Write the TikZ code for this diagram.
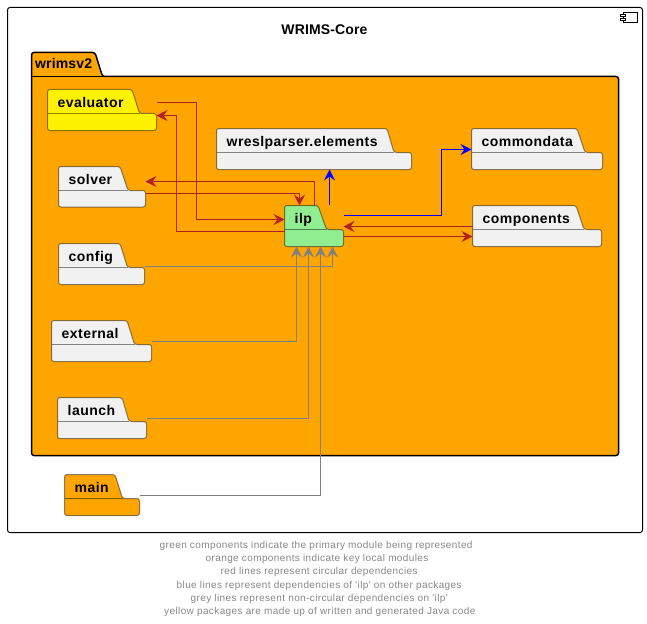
\documentclass[tikz,border=0pt]{standalone}
\usepackage{fontspec}
\setmainfont{Liberation Sans}
\newfontfamily\pkgfont[LetterSpace=3.2]{Liberation Sans}
\newfontfamily\titlefont[LetterSpace=1]{Liberation Sans}
\newfontfamily\capfont[LetterSpace=3.9]{Liberation Sans}
\usetikzlibrary{arrows.meta,fit}
\definecolor{pkggrey}{HTML}{F1F1F1}
\definecolor{pkgorange}{HTML}{FFA500}
\definecolor{pkggreen}{HTML}{90EE90}
\definecolor{redlink}{HTML}{B22222}
\definecolor{captext}{HTML}{888888}
\tikzset{
  pkgshape/.style={line width=1pt,draw=black,draw opacity=.45,rounded corners=2.5pt},
  pkgname/.style={anchor=base west,inner sep=0pt,font=\pkgfont\bfseries\fontsize{14}{14}\selectfont},
  box/.style={inner sep=0pt,outer sep=0pt},
  conn/.style={line width=1pt,-{Stealth[length=11pt,width=11pt,inset=4pt]}},
  redlink/.style={conn,draw=redlink,color=redlink},
  bluelink/.style={conn,draw=blue,color=blue},
  greylink/.style={conn,draw=gray,color=gray},
  capline/.style={anchor=base west,inner sep=0pt,text=captext,font=\capfont\fontsize{10}{10}\selectfont},
}
% name, label, fill, left, top, tab top right, tab bottom right, right, bottom
\newcommand{\pkgbox}[9]{%
  \path[pkgshape,fill=#3] (#4,#5) -- (#6,#5) -- (#7,#5+24) -- (#8,#5+24) -- (#8,#9) -- (#4,#9) -- cycle;
  \draw[line width=1pt,draw=black,draw opacity=.45] (#4,#5+24) -- (#7,#5+24);
  \node[box,fit={(#4,#5) (#8,#9)}] (#1) {};
  \node[pkgname] (#1-label) at (#4+10,#5+18) {#2};
}
\begin{document}
\begin{tikzpicture}[x=1pt,y=-1pt]
\useasboundingbox (0,0) rectangle (647,623);
\fill[white] (0,0) rectangle (647,623);
% outer component
\draw[line width=1pt,rounded corners=2.5pt,fill=white] (7.5,7.5) rectangle (642.5,532.5);
\node[box,fit={(7.5,7.5) (642.5,532.5)}] (core) {};
\node[anchor=base,inner sep=0pt,font=\titlefont\bfseries\fontsize{14}{14}\selectfont] (core-title) at (324.5,35) {WRIMS-Core};
\draw[line width=1pt] (623.5,12.5) rectangle (637.5,22.5);
\draw[line width=1pt,fill=white] (620.5,14.5) rectangle (625.5,16.5);
\draw[line width=1pt,fill=white] (620.5,18.5) rectangle (625.5,20.5);
% wrimsv2 frame
\path[draw=black,line width=1.5pt,fill=pkgorange,rounded corners=2.5pt]
  (31.5,52.5) -- (95,52.5) -- (102.5,76.5) -- (618.5,76.5) -- (618.5,455.5) -- (31.5,455.5) -- cycle;
\draw[line width=1pt,black] (31.5,76.5) -- (102.5,76.5);
\node[box,fit={(31.5,52.5) (618.5,455.5)}] (wrimsv2) {};
\node[anchor=base west,inner sep=0pt,font=\titlefont\bfseries\fontsize{14}{14}\selectfont] (wrimsv2-label) at (35,69) {wrimsv2};
% packages
\pkgbox{evaluator}{evaluator}{yellow}{47.5}{89.5}{132}{139.5}{156.5}{130.5}
\pkgbox{solver}{solver}{pkggrey}{58.5}{166.5}{120}{128}{145.5}{207}
\pkgbox{config}{config}{pkggrey}{58.5}{243.5}{120}{127.5}{144.5}{284.5}
\pkgbox{external}{external}{pkggrey}{51.5}{320.5}{127}{134.5}{151.5}{361.5}
\pkgbox{launch}{launch}{pkggrey}{57.5}{397.5}{122}{129}{146.5}{438.5}
\pkgbox{main}{main}{pkgorange}{64.5}{474.5}{115}{122.5}{139.5}{515.5}
\pkgbox{wresl}{wreslparser.elements}{pkggrey}{216.5}{128.5}{387}{394}{411.5}{169.5}
\pkgbox{commondata}{commondata}{pkggrey}{471.5}{128.5}{577}{585}{602.5}{169.5}
\pkgbox{components}{components}{pkggrey}{472.5}{205.5}{576}{584}{601.5}{246.5}
\pkgbox{ilp}{ilp}{pkggreen}{284.5}{205.5}{318}{326.5}{343.5}{246.5}
% connectors
\draw[redlink] (evaluator.east |- 0,102.5) -| (196.5,219.5) -- (ilp.west |- 0,219.5);
\draw[redlink] (ilp.west |- 0,231.5) -| (176.5,115.5) -- (evaluator.east |- 0,115.5);
\draw[redlink] (ilp.north -| 314.5,0) |- (solver.east |- 0,181.5);
\draw[redlink] (solver.east |- 0,193.5) -| (ilp.north -| 299.5,0);
\draw[redlink] (components.west |- 0,226.5) -- (ilp.east |- 0,226.5);
\draw[redlink] (ilp.east |- 0,236.5) -- (components.west |- 0,236.5);
\draw[bluelink] (329.5,205) -- (wresl.south -| 329.5,0);
\draw[bluelink] (ilp.east |- 0,215.5) -| (441.5,149.5) -- (commondata.west |- 0,149.5);
\draw[greylink] (config.east |- 0,266.5) -| (ilp.south -| 332.5,0);
\draw[greylink] (external.east |- 0,341.5) -| (ilp.south -| 296.5,0);
\draw[greylink] (launch.east |- 0,418.5) -| (ilp.south -| 308.5,0);
\draw[greylink] (main.east |- 0,495.5) -| (ilp.south -| 320.5,0);
% caption
\node[capline] (cap1) at (159.5,548) {green components indicate the primary module being represented};
\node[capline] (cap2) at (205.5,561) {orange components indicate key local modules};
\node[capline] (cap3) at (220.5,574) {red lines represent circular dependencies};
\node[capline] (cap4) at (176.5,588) {blue lines represent dependencies of 'ilp' on other packages};
\node[capline] (cap5) at (190.5,601) {grey lines represent non-circular dependencies on 'ilp'};
\node[capline] (cap6) at (164,614) {yellow packages are made up of written and generated Java code};
\end{tikzpicture}
\end{document}
